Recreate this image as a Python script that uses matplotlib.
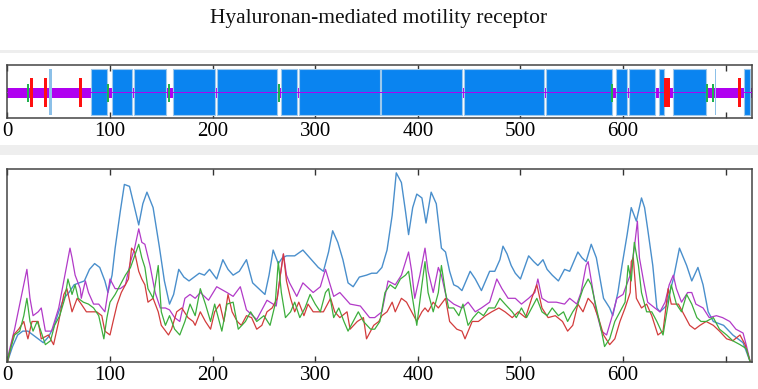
import matplotlib
matplotlib.use("Agg")
import matplotlib.pyplot as plt
from matplotlib.patches import Rectangle

title = "Hyaluronan-mediated motility receptor"
seq_len = 725.7
tick_pos = [0, 100, 200, 300, 400, 500, 600, 700]
tick_labels = ["0", "100", "200", "300", "400", "500", "600", ""]

# domain diagram (residue coordinates)
dom_start = [81, 102, 123, 161, 204, 267, 284, 364, 445, 525, 593, 606, 635, 649, 718]
dom_end = [97, 121, 155, 202, 263, 282, 363, 443, 523, 589, 604, 631, 640, 681, 724]
red_pos = [23.6, 37, 71.5, 643, 713.5]
red_w = [3.0, 3.0, 3.0, 6.0, 3.2]
green_pos = [20.4, 98.3, 157.8, 264.4, 589, 681.5, 688]
lblue_pos = [41.7, 690.5]
lblue_w = [2.8, 1.0]

# profile series (residue, value)
blue_pts = [(0,0),(5,8),(10,14),(15,16),(20,16),(25,14),(30,12),(35,10),(40,13),(45,18),(50,26),(55,33),(60,36),(65,40),(70,41),(75,42),(80,48),(85,51),(90,49),(95,42),(98,36),(102,45),(105,59),(110,78),(114,92),(119,91),(124,80),(128,71),(132,82),(136,88),(142,80),(148,60),(153,42),(158,30),(162,35),(167,48),(172,44),(177,42),(182,44),(187,46),(192,45),(197,48),(204,43),(210,53),(215,48),(220,45),(226,47),(233,53),(239,41),(245,38),(251,35),(255,45),(259,58),(264,51),(268,54),(272,55),(280,55),(288,58),(293,55),(298,52),(303,49),(308,47),(313,57),(317,68),(322,62),(327,53),(332,41),(337,39),(343,44),(350,45),(355,46),(360,46),(365,49),(370,58),(375,76),(379,98),(384,93),(388,78),(391,66),(395,80),(399,87),(404,85),(408,72),(413,88),(418,82),(423,59),(427,57),(431,47),(435,40),(439,39),(443,37),(447,42),(451,47),(456,43),(462,37),(466,42),(470,47),(475,47),(480,53),(483,60),(487,56),(491,50),(495,46),(500,43),(504,49),(508,55),(513,52),(517,50),(522,53),(526,48),(531,45),(537,42),(543,48),(548,47),(556,57),(560,54),(564,52),(569,61),(574,54),(578,42),(581,33),(587,28),(590,24),(595,36),(599,50),(604,66),(608,80),(613,73),(618,85),(621,80),(624,69),(629,50),(633,28),(636,26),(642,29),(649,43),(655,59),(662,50),(667,42),(673,49),(678,40),(683,26),(688,21),(698,19),(707,14),(717,10),(724,0)]
magenta_pts = [(0,0),(1,4),(7,17),(12,30),(17,43),(19,48),(22,33),(25,24),(30,26),(33,28),(37,16),(43,16),(50,28),(56,45),(61,59),(63,54),(66,45),(71,38),(72,33),(76,42),(79,36),(84,30),(89,30),(95,26),(100,43),(105,38),(110,38),(115,40),(120,52),(124,59),(128,69),(131,62),(134,61),(139,50),(144,36),(149,28),(154,28),(158,27),(163,23),(168,21),(173,33),(178,35),(183,33),(188,36),(196,32),(204,39),(214,36),(220,34),(227,39),(233,27),(243,22),(253,32),(262,29),(266,45),(269,56),(272,45),(275,41),(282,34),(288,41),(298,36),(305,39),(310,48),(318,34),(324,36),(334,30),(344,29),(353,23),(358,23),(365,26),(371,42),(378,40),(384,45),(391,57),(394,47),(397,33),(402,45),(407,59),(410,47),(415,36),(420,49),(423,45),(428,33),(435,30),(443,28),(449,31),(456,26),(462,28),(470,31),(477,43),(482,38),(488,33),(495,33),(501,30),(508,33),(514,36),(517,43),(521,33),(527,31),(535,31),(543,30),(548,33),(555,30),(559,36),(564,50),(566,52),(571,36),(574,26),(579,16),(584,14),(589,23),(594,33),(600,35),(607,45),(611,59),(614,73),(616,54),(620,42),(624,31),(631,28),(636,26),(641,31),(645,40),(649,45),(652,38),(657,31),(663,36),(667,36),(671,30),(678,28),(684,23),(691,24),(697,23),(704,21),(710,17),(717,15),(720,9),(724,0)]
red_pts = [(0,0),(1,2),(6,14),(11,17),(16,21),(19,14),(20,12),(24,21),(30,21),(33,12),(40,14),(45,9),(50,21),(55,35),(58,38),(63,26),(68,33),(72,30),(77,26),(82,26),(87,26),(92,24),(95,16),(100,14),(103,21),(107,30),(111,36),(118,43),(121,59),(124,57),(128,47),(131,43),(134,40),(137,31),(142,33),(147,26),(150,19),(157,14),(160,17),(165,26),(170,28),(176,23),(181,21),(183,19),(188,26),(193,21),(198,17),(202,26),(207,30),(211,21),(215,35),(219,26),(224,21),(228,19),(233,24),(238,23),(243,17),(248,19),(253,26),(258,28),(263,33),(266,45),(269,56),(272,42),(276,33),(280,26),(284,31),(289,24),(293,30),(298,26),(308,26),(315,33),(319,26),(324,23),(331,26),(334,17),(341,21),(347,23),(350,12),(357,19),(362,21),(365,24),(370,26),(375,31),(378,26),(384,33),(389,31),(394,26),(399,21),(404,26),(407,28),(410,26),(415,31),(420,28),(427,33),(431,21),(438,17),(443,16),(446,12),(453,21),(459,21),(466,24),(472,26),(479,28),(485,26),(492,23),(498,26),(505,23),(511,33),(516,40),(521,28),(527,23),(534,24),(541,21),(546,16),(551,19),(556,30),(561,26),(566,33),(571,30),(576,23),(581,14),(587,9),(592,12),(597,21),(602,28),(607,36),(608,52),(610,54),(613,33),(618,28),(623,30),(628,24),(634,14),(639,16),(644,38),(647,30),(654,30),(660,24),(665,19),(670,17),(675,19),(681,21),(688,19),(694,16),(701,12),(707,11),(714,14),(719,9),(724,0)]
green_pts = [(0,0),(1,3),(7,14),(12,16),(16,24),(19,33),(22,21),(25,16),(29,21),(32,17),(37,9),(42,11),(46,19),(51,24),(56,33),(59,43),(63,35),(66,40),(69,33),(74,31),(79,30),(84,28),(89,24),(94,12),(97,23),(100,31),(105,35),(110,40),(115,45),(120,49),(124,55),(128,61),(131,54),(134,49),(137,38),(142,33),(147,50),(150,26),(154,19),(158,24),(163,17),(168,14),(173,21),(178,30),(183,24),(188,38),(193,30),(198,21),(202,30),(209,16),(214,30),(220,31),(225,17),(232,21),(237,26),(243,21),(250,24),(256,19),(261,30),(264,52),(267,36),(271,23),(276,26),(280,31),(285,23),(290,28),(295,35),(300,30),(305,26),(310,36),(313,38),(318,23),(323,28),(328,21),(332,16),(337,21),(342,26),(347,21),(354,17),(358,17),(363,21),(368,36),(373,40),(378,38),(383,43),(388,45),(391,47),(394,36),(399,19),(404,40),(407,52),(410,36),(415,26),(420,36),(423,50),(427,36),(430,28),(435,28),(440,24),(444,30),(449,19),(454,23),(459,26),(464,24),(469,28),(475,28),(480,33),(485,30),(492,26),(496,23),(501,28),(506,23),(511,28),(516,33),(521,26),(526,24),(531,28),(537,24),(542,26),(546,21),(551,26),(556,30),(561,38),(566,43),(569,40),(574,28),(579,16),(582,8),(587,12),(592,21),(597,26),(602,31),(605,50),(608,42),(611,62),(615,50),(618,36),(623,26),(628,26),(633,21),(639,14),(644,30),(647,40),(652,30),(657,26),(662,35),(667,30),(672,23),(676,21),(681,21),(688,23),(694,17),(701,14),(707,11),(714,9),(720,7),(724,0)]

W, H = 758, 389
fig = plt.figure(figsize=(W / 100, H / 100), dpi=100)
fig.patch.set_facecolor("white")

# light gray separator bands
fig.patches.append(Rectangle((0, (H - 53) / H), 1, 3 / H, transform=fig.transFigure,
                             facecolor="#eeeeee", edgecolor="none", zorder=0))
fig.patches.append(Rectangle((0, (H - 155) / H), 1, 10 / H, transform=fig.transFigure,
                             facecolor="#eeeeee", edgecolor="none", zorder=0))

fig.text(0.5, 1 - 18 / H, title, ha="center", va="center",
         fontsize=15.5, family="Liberation Serif", color="#111111")

left = 7.4 / W
width = (752 - 7.4) / W

def style_axis(ax):
    ax.set_xlim(0, seq_len)
    ax.set_xticks(tick_pos)
    ax.set_xticklabels(tick_labels, fontsize=15, family="Liberation Serif")
    ax.tick_params(axis="x", direction="in", top=True, bottom=True, length=4,
                   width=1, color="#333333", pad=3)
    ax.set_yticks([])
    for s in ax.spines.values():
        s.set_color("#444444")
        s.set_linewidth(1.1)

# top: domain diagram
ax1 = fig.add_axes([left, (H - 118) / H, width, 53 / H])
ax1.set_ylim(0, 1)
ax1.barh(0.48, seq_len, left=0, height=0.19, color="#b000f0", zorder=1)
dom_w = [e - s for s, e in zip(dom_start, dom_end)]
ax1.bar(dom_start, 0.87, width=dom_w, bottom=0.05, align="edge",
        color="#0a84f0", edgecolor="#9cc8ec", linewidth=0.8, zorder=2)
ax1.plot([0, seq_len], [0.485, 0.485], color="#b000f0", lw=0.7, zorder=3)
ax1.bar(red_pos, 0.54, width=red_w, bottom=0.21, color="#ff1010", zorder=4)
ax1.bar(green_pos, 0.33, width=1.8, bottom=0.31, color="#20b050", zorder=4)
ax1.bar(lblue_pos, 0.86, width=lblue_w, bottom=0.06, color="#8cc0e8", zorder=4)
style_axis(ax1)

# bottom: profiles
ax2 = fig.add_axes([left, (H - 362) / H, width, 193 / H])
ax2.set_ylim(0, 100)
for pts, col, lw in [(blue_pts, "#4a8fcc", 1.0), (magenta_pts, "#b23ac8", 0.9),
                     (red_pts, "#d23c3c", 0.9), (green_pts, "#3cae3c", 0.9)]:
    xs = [p[0] for p in pts]
    ys = [p[1] for p in pts]
    ax2.plot(xs, ys, color=col, lw=lw)
style_axis(ax2)

fig.savefig("out.png", dpi=100)
